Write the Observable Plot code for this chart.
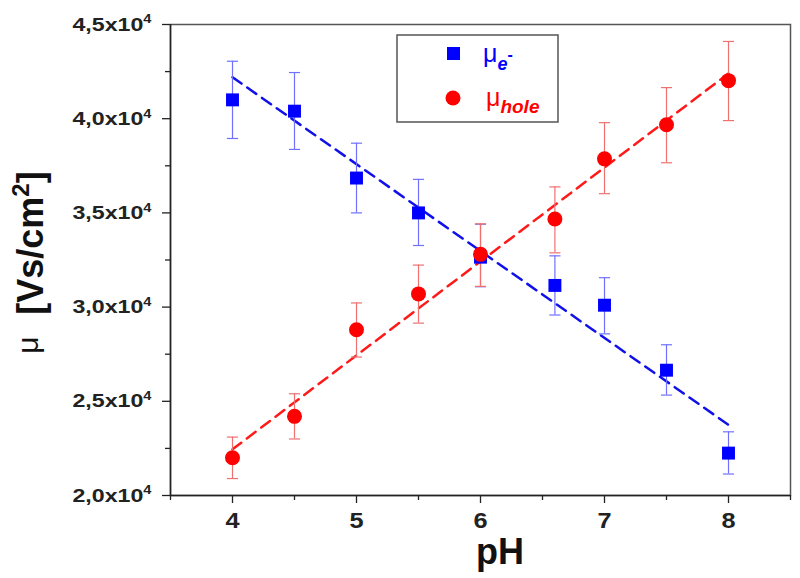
<!DOCTYPE html>
<html>
<head>
<meta charset="utf-8">
<script src="https://cdn.jsdelivr.net/npm/d3@7"></script>
<script src="https://cdn.jsdelivr.net/npm/@observablehq/plot@0.6"></script>
<style>
  html, body { margin: 0; padding: 0; background: #fff; }
  #chart { width: 800px; height: 578px; }
</style>
</head>
<body>
<div id="chart"></div>
<script>
// ---- data ----
const pH      = [4, 4.5, 5, 5.5, 6, 6.6, 7, 7.5, 8];
const muE     = [41000, 40400, 36850, 35000, 32650, 31150, 30100, 26650, 22250];
const muEHi   = [43050, 42450, 38700, 36780, 34400, 32720, 31560, 28000, 23380];
const muELo   = [38950, 38370, 35000, 33270, 31080, 29580, 28580, 25330, 21140];
const muH     = [22000, 24200, 28800, 30700, 32800, 34680, 37870, 39680, 42020];
const muHHi   = [23100, 25400, 30220, 32230, 34420, 36380, 39790, 41650, 44100];
const muHLo   = [20900, 23000, 27350, 29150, 31100, 32880, 36020, 37660, 39900];
const fitPH   = [4, 8];
const fitE    = [42200, 23750];
const fitH    = [22450, 42400];
const yTicks  = [20000, 25000, 30000, 35000, 40000, 45000];
const yLabels = ["2,0x10", "2,5x10", "3,0x10", "3,5x10", "4,0x10", "4,5x10"];
const yExp    = "4";
const yMinor  = [22500, 27500, 32500, 37500, 42500];
const xTicks  = [4, 5, 6, 7, 8];
const xMinor  = [3.5, 4.5, 5.5, 6.5, 7.5, 8.5];

const eData = pH.map((x, i) => ({x, y: muE[i], hi: muEHi[i], lo: muELo[i]}));
const hData = pH.map((x, i) => ({x, y: muH[i], hi: muHHi[i], lo: muHLo[i]}));
const eFit = fitPH.map((x, i) => ({x, y: fitE[i]}));
const hFit = fitPH.map((x, i) => ({x, y: fitH[i]}));

const BLUE = "#0000ff", RED = "#ff0000";
const BLUE_ERR = "#7070ff", RED_ERR = "#f07070";
const cap = 0.045;
const FONT = "Liberation Sans, Arial, sans-serif";

const errMarks = (data, color) => [
  Plot.ruleX(data, {x: "x", y1: "lo", y2: "hi", stroke: color, strokeWidth: 1.2}),
  Plot.link(data, {x1: d => d.x - cap, x2: d => d.x + cap, y1: "hi", y2: "hi", stroke: color, strokeWidth: 1.2}),
  Plot.link(data, {x1: d => d.x - cap, x2: d => d.x + cap, y1: "lo", y2: "lo", stroke: color, strokeWidth: 1.2})
];

const chart = Plot.plot({
  width: 800,
  height: 578,
  marginLeft: 170,
  marginRight: 10,
  marginTop: 24,
  marginBottom: 83,
  style: {fontFamily: FONT, background: "#fff", overflow: "visible"},
  x: {domain: [3.5, 8.5], label: null},
  y: {domain: [20000, 45000], label: null},
  marks: [
    Plot.frame({stroke: "#555", strokeWidth: 1.5}),
    Plot.ruleX([3.5], {stroke: "#222", strokeWidth: 1.5}),
    Plot.ruleY([20000], {stroke: "#222", strokeWidth: 1.5}),
    Plot.axisY({ticks: yTicks, tickFormat: d => yLabels[yTicks.indexOf(d)], tickSize: 8, tickPadding: 11,
      fontSize: 19, fontWeight: "bold", stroke: "#222", fill: "#222", strokeWidth: 1.3, label: null}),
    Plot.axisY({ticks: yMinor, tickFormat: () => "", tickSize: 5, stroke: "#222", strokeWidth: 1.3, label: null}),
    Plot.axisX({ticks: xTicks, tickFormat: d => String(d), tickSize: 8, tickPadding: 9,
      fontSize: 22, fontWeight: "bold", stroke: "#222", fill: "#222", strokeWidth: 1.3, label: null}),
    Plot.axisX({ticks: xMinor, tickFormat: () => "", tickSize: 5, stroke: "#222", strokeWidth: 1.3, label: null}),
    Plot.line(eFit, {x: "x", y: "y", stroke: "#1010e8", strokeWidth: 2.5, strokeDasharray: "11,7"}),
    Plot.line(hFit, {x: "x", y: "y", stroke: "#ff1a1a", strokeWidth: 2.5, strokeDasharray: "11,7"}),
    ...errMarks(eData, BLUE_ERR),
    ...errMarks(hData, RED_ERR),
    Plot.dot(eData, {x: "x", y: "y", symbol: "square", r: 7.3, fill: BLUE, stroke: null}),
    Plot.dot(hData, {x: "x", y: "y", symbol: "circle", r: 7.5, fill: RED, stroke: null})
  ]
});

document.getElementById("chart").appendChild(chart);

const svg = d3.select(chart);
// stretch tick labels horizontally (reference text is wide) and add the exponent
svg.selectAll("g[aria-label='y-axis tick label'] text").each(function() {
  const sel = d3.select(this);
  const base = sel.text();
  if (!base) return;
  const t = this.getAttribute("transform") || "";
  this.setAttribute("transform", t + " scale(1.22,1)");
  sel.text(null);
  sel.append("tspan").text(base);
  sel.append("tspan").attr("font-size", 12).attr("dy", "-0.6em").text(yExp);
});
svg.selectAll("g[aria-label='x-axis tick label'] text").each(function() {
  if (!this.textContent) return;
  const t = this.getAttribute("transform") || "";
  this.setAttribute("transform", t + " scale(1.15,1)");
});

// x axis title
svg.append("text")
  .attr("x", 500).attr("y", 564)
  .attr("text-anchor", "middle")
  .attr("font-family", FONT)
  .attr("font-weight", "bold").attr("font-size", 36).attr("fill", "#111")
  .text("pH");

// y axis title
svg.append("text")
  .attr("transform", "translate(38,345) rotate(-90)")
  .attr("text-anchor", "middle")
  .attr("font-family", FONT)
  .attr("font-size", 30).attr("fill", "#111")
  .text("μ");
const yt = svg.append("text")
  .attr("transform", "translate(43,243) rotate(-90)")
  .attr("text-anchor", "middle")
  .attr("font-family", FONT)
  .attr("font-weight", "bold").attr("font-size", 36).attr("fill", "#111");
yt.append("tspan").text("[Vs/cm");
yt.append("tspan").attr("font-size", 24).attr("dy", -14).text("2");
yt.append("tspan").attr("dy", 14).text("]");

// legend
const lg = svg.append("g").attr("text-anchor", "start");
lg.append("rect").attr("x", 397).attr("y", 35).attr("width", 161).attr("height", 87)
  .attr("fill", "#fff").attr("stroke", "#555").attr("stroke-width", 1.5);
lg.append("rect").attr("x", 447).attr("y", 47).attr("width", 13).attr("height", 13).attr("fill", BLUE);
lg.append("circle").attr("cx", 453).attr("cy", 98).attr("r", 7.5).attr("fill", RED);
const t1 = lg.append("text").attr("x", 483).attr("y", 62).attr("text-anchor", "start")
  .attr("font-family", FONT).attr("fill", BLUE).attr("font-size", 25);
t1.append("tspan").text("μ");
t1.append("tspan").attr("font-size", 18).attr("font-weight", "bold").attr("font-style", "italic").attr("dy", 8).text("e");
t1.append("tspan").attr("font-size", 16).attr("font-weight", "bold").attr("dy", -10).text("-");
const t2 = lg.append("text").attr("x", 486).attr("y", 106).attr("text-anchor", "start")
  .attr("font-family", FONT).attr("fill", RED).attr("font-size", 25);
t2.append("tspan").text("μ");
t2.append("tspan").attr("font-size", 19).attr("font-weight", "bold").attr("font-style", "italic").attr("dy", 7).text("hole");
</script>
</body>
</html>
